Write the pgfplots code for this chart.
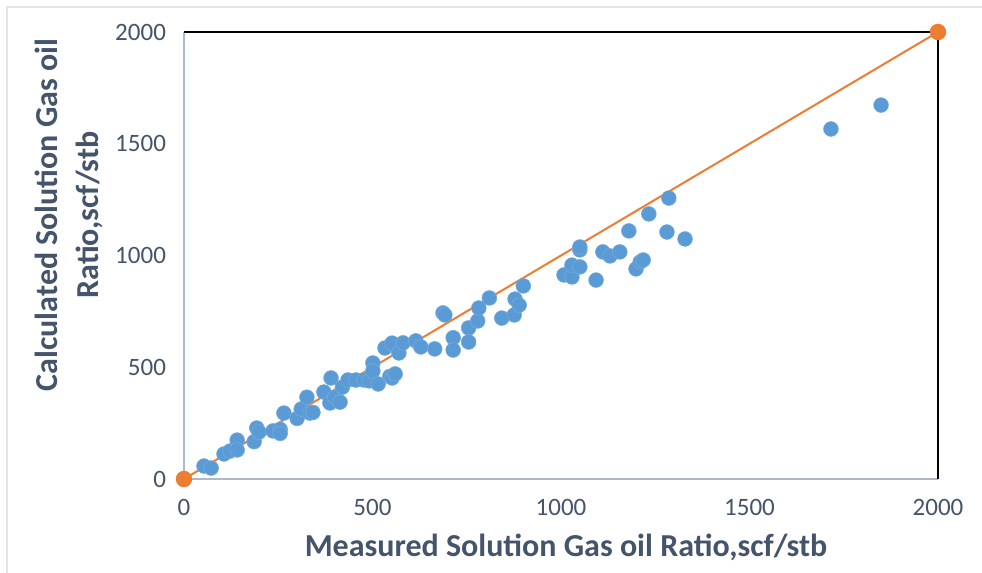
\documentclass[border=0pt]{standalone}
\usepackage{pgfplots}
\pgfplotsset{compat=1.18}
\usepackage{fontspec}
\setmainfont{Carlito}
\definecolor{ptblue}{HTML}{5B9BD5}
\definecolor{fitorange}{HTML}{ED7D31}
\definecolor{axisgray}{HTML}{ADB9CA}
\definecolor{labelslate}{HTML}{44546A}
\definecolor{framegray}{HTML}{E2E6EA}

\pgfplotstableread{
meas calc
53 58
72 49
106 112
122 125
141 174
141 130
186 167
193 228
199 210
236 215
255 222
255 204
265 295
300 271
311 313
326 366
334 295
342 298
371 389
390 452
387 340
400 366
414 344
420 411
435 443
456 443
477 443
491 439
501 519
501 483
515 425
546 459
533 586
552 608
552 452
560 470
570 564
581 609
615 618
628 591
665 582
687 743
692 734
714 632
714 577
755 676
755 613
779 707
782 765
810 810
843 720
876 734
878 805
889 778
900 864
1008 913
1029 904
1029 957
1050 949
1050 1025
1050 1038
1093 890
1111 1016
1130 998
1156 1016
1180 1110
1199 940
1210 971
1218 980
1233 1186
1281 1105
1286 1257
1329 1074
1716 1566
1849 1673
}\gordata

\pgfplotstableread{
meas calc
0 0
2000 2000
}\parity

\begin{document}
\begin{tikzpicture}
\useasboundingbox (0,0) rectangle (491pt,286.5pt);
% chart area edge
\draw[framegray, line width=1pt] (3.5pt,0) -- (3.5pt,283pt) -- (491pt,283pt);

\begin{axis}[
  at={(92pt,47pt)}, anchor=south west,
  scale only axis, width=377pt, height=223.5pt,
  xmin=0, xmax=2000, ymin=0, ymax=2000,
  xtick={0,500,...,2000}, ytick={0,500,...,2000},
  major tick length=0pt,
  axis line style={draw=none},
  clip=false,
  tick label style={font=\fontsize{12.5}{14}\selectfont, text=labelslate},
  xticklabel style={yshift=-6.5pt},
  yticklabel style={xshift=-5.5pt},
  /pgf/number format/assume math mode=true,
  scaled ticks=false,
  /pgf/number format/set thousands separator={},
]
  \draw[axisgray, line width=1.4pt] (rel axis cs:0,1) -- (rel axis cs:0,0) -- (rel axis cs:1,0);
  \draw[black, line width=0.8pt] (rel axis cs:0,1) -- (rel axis cs:1,1) -- (rel axis cs:1,0);
  \addplot[only marks, mark=*, mark size=3.7pt,
    mark options={fill=ptblue, draw=ptblue!85!white, line width=0.3pt}]
    table[x=meas, y=calc] {\gordata};
  \addplot[fitorange, line width=1pt, mark=*, mark size=3.6pt,
    mark options={fill=fitorange, draw=fitorange}]
    table[x=meas, y=calc] {\parity};
\end{axis}

\node[font=\fontsize{16}{18}\selectfont\bfseries, text=labelslate, anchor=center]
  at (283pt,13pt) {Measured Solution Gas oil Ratio,scf/stb};
\node[font=\fontsize{16}{20.5}\selectfont\bfseries, text=labelslate, rotate=90,
  align=center, anchor=center]
  at (34.5pt,179pt) {Calculated Solution Gas oil\\Ratio,scf/stb};
\end{tikzpicture}
\end{document}
